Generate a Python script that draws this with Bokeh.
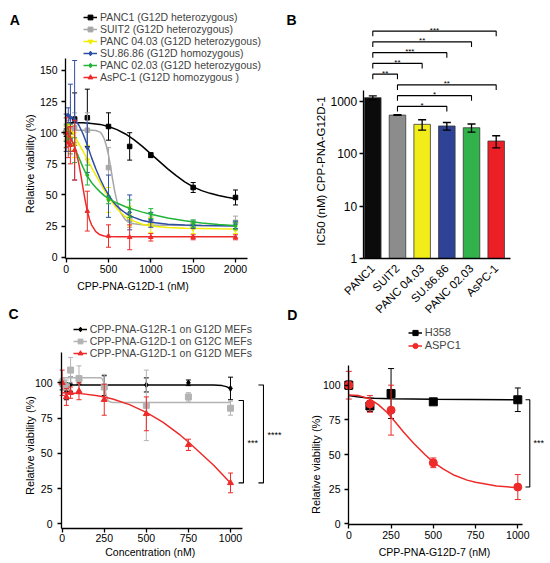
import math
from bokeh.plotting import figure
from bokeh.models import Range1d, FixedTicker, Legend, LegendItem, Label, NumeralTickFormatter
from bokeh.layouts import row, column
from bokeh.embed import file_html
from bokeh.resources import INLINE
from bokeh.core.properties import value

FONT = "Liberation Sans"

# ---------------- Panel A data ----------------
a_doses = [0, 25, 50, 100, 250, 500, 750, 1000, 1500, 2000]
a_names = ["PANC1 (G12D heterozygous)", "SUIT2 (G12D heterozygous)",
           "PANC 04.03 (G12D heterozygous)", "SU.86.86 (G12D homozygous)",
           "PANC 02.03 (G12D heterozygous)", "AsPC-1 (G12D homozygous )"]
a_colors = ["#000000", "#a6a6a6", "#f2ec00", "#2e4fa3", "#22b33a", "#ee2a2a"]
a_markers = ["square", "square", "inverted_triangle", "diamond", "diamond", "triangle"]
a_panc1 = [100, 100, 101, 111, 112, 105, 89, 82, 56, 48]
a_panc1_err = [3, 4, 6, 21, 23, 11, 11, 2, 4, 6]
a_suit2 = [100, 102, 103, 104, 102, 72, 30, 29, 26, 28]
a_suit2_err = [6, 8, 10, 12, 14, 16, 6, 4, 3, 5]
a_p0403 = [100, 99, 96, 90, 78, 46, 33, 26, 23, 22]
a_p0403_err = [5, 8, 10, 10, 12, 10, 8, 6, 4, 3]
a_su8686 = [100, 114, 112, 110, 88, 49, 36, 30, 26, 26]
a_su8686_err = [15, 6, 27, 48, 20, 17, 14, 6, 3, 3]
a_p0203 = [100, 95, 91, 86, 66, 46, 39, 35, 27, 25]
a_p0203_err = [7, 6, 8, 10, 8, 3, 7, 4, 3, 3]
a_aspc1 = [100, 92, 90, 86, 37, 17, 16, 16, 16, 16]
a_aspc1_err = [12, 12, 15, 24, 16, 9, 10, 3, 2, 2]
# fitted curves
a_panc1_fx = [0, 200, 300, 400, 500, 600, 700, 800, 900, 1000, 1100, 1200, 1300, 1400, 1500, 1600, 1700, 1800, 1900, 2000]
a_panc1_fy = [108, 108, 107.5, 106.7, 105, 102.5, 99, 94.5, 89, 83, 77, 71, 65.5, 60.5, 56.5, 53.5, 51.3, 49.5, 48.2, 47]
a_suit2_fx = [0, 300, 350, 400, 425, 450, 475, 500, 525, 550, 575, 600, 625, 650, 700, 750, 800, 900, 1000, 1500, 2000]
a_suit2_fy = [102, 102, 101.8, 100.5, 98.5, 95, 89.5, 82, 72.5, 62, 52.5, 45, 39, 35, 30, 27.8, 26.8, 26, 25.8, 25.5, 25.5]
a_p0403_fx = [0, 50, 100, 150, 200, 250, 300, 350, 400, 450, 500, 550, 600, 650, 700, 750, 800, 900, 1000, 1200, 1400, 1600, 1800, 2000]
a_p0403_fy = [108, 103, 97, 91, 85, 78.5, 72, 66, 60, 54, 48.5, 43.5, 39, 35.5, 32.5, 30.5, 29, 26.5, 25, 23.8, 23.2, 23, 22.8, 22.7]
a_su8686_fx = [0, 50, 100, 150, 200, 250, 300, 350, 400, 450, 500, 550, 600, 650, 700, 750, 800, 900, 1000, 1200, 1400, 1600, 1800, 2000]
a_su8686_fy = [114, 113, 111, 106, 99, 90, 80, 71, 63, 56, 50, 45, 41, 38, 35.5, 33.5, 32, 29.5, 28, 26.5, 25.8, 25.4, 25.2, 25]
a_p0203_fx = [0, 25, 50, 75, 100, 150, 200, 250, 300, 350, 400, 450, 500, 600, 700, 800, 900, 1000, 1200, 1400, 1600, 1800, 2000]
a_p0203_fy = [107, 102, 97, 92.5, 88, 80, 72, 65, 60, 56, 52.5, 49.5, 47, 43.5, 40.5, 38.2, 36.2, 34.5, 31.5, 29.2, 27.5, 26.2, 25.2]
a_aspc1_fx = [0, 50, 100, 125, 150, 175, 200, 225, 250, 275, 300, 350, 400, 450, 500, 600, 800, 1000, 1500, 2000]
a_aspc1_fy = [100, 96, 89, 82.5, 75, 65.5, 55, 45.5, 37, 30.5, 26, 20.5, 18, 17, 16.7, 16.5, 16.5, 16.5, 16.5, 16.5]
a_xticks = [0, 500, 1000, 1500, 2000]
a_yticks = [0, 25, 50, 75, 100, 125, 150]

# ---------------- Panel B data ----------------
b_cats = ["PANC1", "SUIT2", "PANC 04.03", "SU.86.86", "PANC 02.03", "AsPC-1"]
b_ic50 = [1160, 540, 360, 335, 310, 173]
b_sd = [90, 8, 80, 55, 55, 45]
b_colors = ["#0b0b0b", "#8c8c8c", "#f3ec1b", "#2e4296", "#31b24a", "#ec1f27"]
b_comparisons = [(0, 5, "***"), (0, 4, "**"), (0, 3, "***"), (0, 2, "**"),
                 (0, 1, "**"), (1, 5, "**"), (1, 4, "*"), (1, 3, "*")]
b_yticks = [1, 10, 100, 1000]

# ---------------- Panel C data ----------------
c_doses = [0, 25, 50, 100, 250, 500, 750, 1000]
c_names = ["CPP-PNA-G12R-1 on G12D MEFs", "CPP-PNA-G12D-1 on G12C MEFs", "CPP-PNA-G12D-1 on G12D MEFs"]
c_colors = ["#000000", "#b3b3b3", "#ee2a2a"]
c_markers = ["diamond", "square", "triangle"]
c_g12r = [98, 94, 99, 101, 98, 98.5, 100, 96]
c_g12r_err = [3, 6, 5, 2, 7, 5, 2, 8]
c_g12c = [100, 97, 109, 103, 97, 84, 90, 82]
c_g12c_err = [3, 5, 9, 9, 9, 25, 3, 5]
c_g12d = [100, 90, 93, 94, 88, 78, 56, 29]
c_g12d_err = [9, 6, 4, 6, 11, 12, 4, 7]
c_g12r_fx = [0, 800, 900, 950, 975, 1000]
c_g12r_fy = [98.5, 98.5, 98.4, 98, 97.3, 96]
c_g12c_fx = [0, 230, 240, 250, 260, 270, 280, 300, 1000]
c_g12c_fy = [103.5, 103.5, 102.5, 99, 92, 88, 86.5, 86, 86]
c_g12d_fx = [0, 100, 200, 250, 300, 400, 500, 600, 700, 750, 800, 900, 1000]
c_g12d_fy = [93, 92.5, 91, 90, 88.5, 84.5, 79, 72, 63, 58, 52.5, 41.5, 29]
c_brackets = [("***", 87.4, 29.0), ("****", 98.4, 29.0)]
c_xticks = [0, 250, 500, 750, 1000]
c_yticks = [0, 25, 50, 75, 100]

# ---------------- Panel D data ----------------
d_doses = [0, 125, 250, 500, 1000]
d_names = ["H358", "ASPC1"]
d_colors = ["#000000", "#ee2a2a"]
d_markers = ["square", "circle"]
d_h358 = [100, 85, 94, 88, 89.5]
d_h358_err = [3, 4, 18, 0.5, 8.5]
d_aspc1 = [100, 86.5, 82, 44, 26.5]
d_aspc1_err = [10, 6, 18, 3.5, 9]
d_h358_fx = [0, 50, 100, 150, 250, 500, 1000]
d_h358_fy = [92.5, 91.6, 91, 90.6, 90.2, 89.8, 89.5]
d_aspc1_fx = [0, 60, 125, 175, 225, 275, 325, 385, 450, 500, 560, 625, 700, 750, 875, 1000]
d_aspc1_fy = [93, 92.5, 90, 86, 80.5, 73.5, 66, 58, 50, 44.5, 39.5, 35, 31.5, 30, 27.3, 26]
d_brackets = [("***", 89.5, 26.5)]
d_xticks = [0, 250, 500, 750, 1000]
d_yticks = [0, 25, 50, 75, 100]


def make_fig(w, h, xr, yr, x_at, y_at, xb, yb, y_log=False, tick_size="10.5px"):
    p = figure(width=w, height=h, x_range=Range1d(*xr), y_range=Range1d(*yr),
               y_axis_type="log" if y_log else "linear", output_backend="svg",
               toolbar_location=None, min_border=0)
    p.outline_line_color = None
    p.xgrid.visible = False
    p.ygrid.visible = False
    p.background_fill_color = "white"
    p.border_fill_color = "white"
    p.xaxis.fixed_location = x_at
    p.yaxis.fixed_location = y_at
    p.xaxis.bounds = xb
    p.yaxis.bounds = yb
    for ax in (p.xaxis[0], p.yaxis[0]):
        ax.axis_line_color = "black"
        ax.axis_line_width = 1.3
        ax.major_tick_line_color = "black"
        ax.major_tick_line_width = 1.3
        ax.major_tick_out = 4
        ax.major_tick_in = 0
        ax.minor_tick_out = 0
        ax.minor_tick_in = 0
        ax.major_label_text_font = FONT
        ax.major_label_text_color = "black"
        ax.major_label_text_font_size = tick_size
    return p


def txt(p, fig_lb, px, py, text, size, angle=0.0, bold=False, align="center", baseline="middle"):
    fl, fb = fig_lb
    p.add_layout(Label(x=px - fl, y=fb - py, x_units="screen", y_units="screen", text=text,
                       text_font=FONT, text_font_size=f"{size}px",
                       text_font_style="bold" if bold else "normal", angle=angle,
                       text_align=align, text_baseline=baseline, text_color="black"))


def errbars(p, x, y, e, color, cap=5, lw=1.0):
    lo = [a - b for a, b in zip(y, e)]
    hi = [a + b for a, b in zip(y, e)]
    p.segment(x0=x, y0=lo, x1=x, y1=hi, line_color=color, line_width=lw)
    p.scatter(x=list(x) + list(x), y=lo + hi, marker="dash", size=cap, line_color=color, line_width=lw)


def make_legend(items, loc, gh, fsize):
    return Legend(items=items, location=loc, orientation="vertical", padding=0, margin=0, spacing=0,
                  glyph_width=14, glyph_height=gh, label_height=gh, label_standoff=3,
                  label_text_font=FONT, label_text_font_size=fsize, border_line_color=None,
                  background_fill_alpha=0)


# ================= Panel A  (page x 0..285, y 0..297) =================
A_LB = (0, 297)
pA = make_fig(285, 297, (-775.6, 2590.6), (-32.38, 206.24), -1.29, -7.9, (-7.9, 2142), (-1.29, 160))
pA.xaxis.ticker = FixedTicker(ticks=a_xticks)
pA.yaxis.ticker = FixedTicker(ticks=a_yticks)
pA.xaxis.major_label_standoff = 2
pA.yaxis.major_label_standoff = 4
a_vals = [a_panc1, a_suit2, a_p0403, a_su8686, a_p0203, a_aspc1]
a_errs = [a_panc1_err, a_suit2_err, a_p0403_err, a_su8686_err, a_p0203_err, a_aspc1_err]
a_fx = [a_panc1_fx, a_suit2_fx, a_p0403_fx, a_su8686_fx, a_p0203_fx, a_aspc1_fx]
a_fy = [a_panc1_fy, a_suit2_fy, a_p0403_fy, a_su8686_fy, a_p0203_fy, a_aspc1_fy]
itemsA = []
for name, col, mk, ys, es, fx, fy in zip(a_names, a_colors, a_markers, a_vals, a_errs, a_fx, a_fy):
    errbars(pA, a_doses, ys, es, col, cap=5, lw=1.0)
    ln = pA.line(fx, fy, line_color=col, line_width=1.5)
    sc = pA.scatter(a_doses, ys, marker=mk, size=4.5, fill_color=col, line_color=col)
    itemsA.append(LegendItem(label=name, renderers=[ln, sc]))
pA.add_layout(make_legend(itemsA, (83, 213.8), 12, "10.5px"))
txt(pA, A_LB, 9.3, 19.3, "A", 14, bold=True, align="left", baseline="alphabetic")
txt(pA, A_LB, 29, 163.3, "Relative viability (%)", 11, angle=math.pi / 2)
txt(pA, A_LB, 132.5, 285, "CPP-PNA-G12D-1 (nM)", 10.5)

# ================= Panel B  (page x 285..549, y 0..321) =================
B_LB = (285, 321)
pB = make_fig(264, 321, (-3.537, 7.160), (0.0631, 82350), 1, -0.389, (-0.389, 5.58), (1, 1556),
              y_log=True, tick_size="12px")
b_idx = list(range(len(b_cats)))
pB.vbar(x=b_idx, top=b_ic50, bottom=1, width=0.67, fill_color=b_colors, line_color="#3a3a3a", line_width=0.8)
errbars(pB, b_idx, b_ic50, b_sd, "black", cap=8, lw=1.3)
pB.yaxis.ticker = FixedTicker(ticks=b_yticks)
pB.yaxis.formatter = NumeralTickFormatter(format="0")
pB.yaxis.major_label_standoff = 2
pB.xaxis.ticker = FixedTicker(ticks=b_idx)
pB.xaxis.major_label_overrides = {i: c for i, c in enumerate(b_cats)}
pB.xaxis.major_label_orientation = math.pi / 4
pB.xaxis.major_tick_out = 0
pB.xaxis.major_label_standoff = 8
pB.xaxis.major_label_text_font_size = "11.5px"
# significance brackets (levels stacked from the top)
for k, (i, j, lab) in enumerate(b_comparisons):
    yl = 10 ** (4.332 - 0.2049 * k)
    yd = yl / 1.247
    pB.multi_line(xs=[[i, i, j, j]], ys=[[yd, yl, yl, yd]], line_color="black", line_width=1.1)
    pB.text(x=[(i + j) / 2], y=[yl * 1.045], text=[lab], text_font=value(FONT), text_font_size="8px",
            text_align="center", text_baseline="alphabetic", text_color="black")
txt(pB, B_LB, 286, 19.3, "B", 14, bold=True, align="left", baseline="alphabetic")
txt(pB, B_LB, 286.7, 314, "D", 14, bold=True, align="left", baseline="alphabetic")
txt(pB, B_LB, 320, 170.5, "IC50 (nM) CPP-PNA-G12D-1", 11.5, angle=math.pi / 2)

# ================= Panel C  (page x 0..285, y 297..562) =================
C_LB = (0, 562)
pC = make_fig(285, 265, (-366.4, 1326.8), (-27.45, 160.5), -3.55, -4.0, (-4.0, 1069.5), (-3.55, 121.7))
pC.xaxis.ticker = FixedTicker(ticks=c_xticks)
pC.yaxis.ticker = FixedTicker(ticks=c_yticks)
pC.xaxis.major_label_standoff = 1
pC.yaxis.major_label_standoff = 5
c_vals = [c_g12r, c_g12c, c_g12d]
c_errs = [c_g12r_err, c_g12c_err, c_g12d_err]
c_fx = [c_g12r_fx, c_g12c_fx, c_g12d_fx]
c_fy = [c_g12r_fy, c_g12c_fy, c_g12d_fy]
itemsC = []
for name, col, mk, ys, es, fx, fy in zip(c_names, c_colors, c_markers, c_vals, c_errs, c_fx, c_fy):
    errbars(pC, c_doses, ys, es, col, cap=5, lw=1.0)
    ln = pC.line(fx, fy, line_color=col, line_width=1.5)
    sc = pC.scatter(c_doses, ys, marker=mk, size=6 if mk != "diamond" else 5.5, fill_color=col, line_color=col)
    itemsC.append(LegendItem(label=name, renderers=[ln, sc]))
pC.add_layout(make_legend(itemsC, (72.7, 202.7), 12, "10.5px"))
for (lab, top, bot), (xt, xv, xl) in zip(c_brackets, [(1048, 1077, 1101), (1166, 1196, 1220)]):
    pC.multi_line(xs=[[xt, xv, xv, xt]], ys=[[top, top, bot, bot]], line_color="black", line_width=1.1)
    pC.text(x=[xl], y=[(top + bot) / 2 - 1], text=[lab], text_font=value(FONT), text_font_size="9px",
            text_align="left", text_baseline="middle", text_color="black")
txt(pC, C_LB, 8, 313.3, "C", 14, bold=True, align="left", baseline="alphabetic")
txt(pC, C_LB, 29, 445, "Relative viability (%)", 11, angle=math.pi / 2)
txt(pC, C_LB, 149.7, 551.5, "Concentration (nM)", 10.5)

# ================= Panel D  (page x 285..549, y 321..562) =================
D_LB = (285, 562)
pD = make_fig(264, 241, (-374.6, 1187.6), (-27.92, 145.96), -0.5, -1.8, (-1.8, 1026), (-0.5, 114.2))
pD.xaxis.ticker = FixedTicker(ticks=d_xticks)
pD.yaxis.ticker = FixedTicker(ticks=d_yticks)
pD.xaxis.major_label_standoff = 3
pD.yaxis.major_label_standoff = 4
d_vals = [d_h358, d_aspc1]
d_errs = [d_h358_err, d_aspc1_err]
d_fx = [d_h358_fx, d_aspc1_fx]
d_fy = [d_h358_fy, d_aspc1_fy]
itemsD = []
for name, col, mk, ys, es, fx, fy in zip(d_names, d_colors, d_markers, d_vals, d_errs, d_fx, d_fy):
    errbars(pD, d_doses, ys, es, col, cap=6, lw=1.0)
    ln = pD.line(fx, fy, line_color=col, line_width=1.5)
    sc = pD.scatter(d_doses, ys, marker=mk, size=8, fill_color=col, line_color=col)
    itemsD.append(LegendItem(label=name, renderers=[ln, sc]))
pD.add_layout(make_legend(itemsD, (122.7, 210.3), 13, "11px"))
for lab, top, bot in d_brackets:
    pD.multi_line(xs=[[1045.6, 1071, 1071, 1045.6]], ys=[[top, top, bot, bot]], line_color="black", line_width=1.1)
    pD.text(x=[1093], y=[(top + bot) / 2], text=[lab], text_font=value(FONT), text_font_size="9px",
            text_align="left", text_baseline="middle", text_color="black")
txt(pD, D_LB, 315.7, 464, "Relative viability (%)", 11, angle=math.pi / 2)
txt(pD, D_LB, 434, 551.5, "CPP-PNA-G12D-7 (nM)", 10.5)

layout = row(column(pA, pC), column(pB, pD))
open("out.html", "w").write(file_html(layout, INLINE))
